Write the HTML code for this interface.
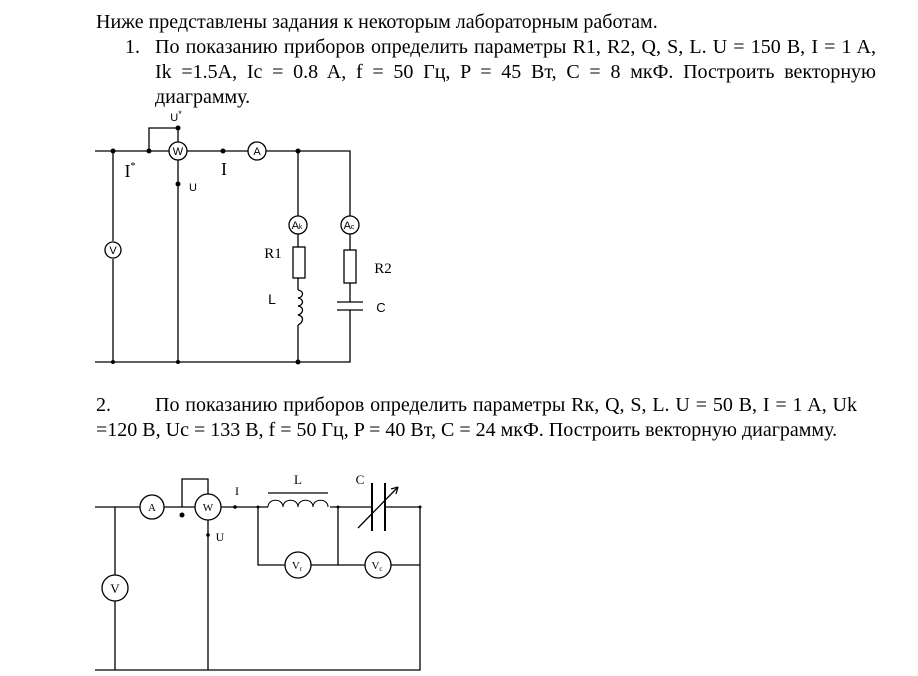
<!DOCTYPE html>
<html><head><meta charset="utf-8"><style>
body{margin:0;background:#fff;width:918px;height:676px;overflow:hidden;position:relative;font-family:"Liberation Serif","Noto Serif CJK SC",serif;color:#000}
.t{position:absolute;font-size:20px;white-space:nowrap;line-height:22px}
.j{text-align:justify;text-align-last:justify;white-space:normal}
svg{position:absolute;left:0;top:0}
</style></head><body>
<div class="t" style="left:96px;top:11px">Ниже представлены задания к некоторым лабораторным работам.</div>
<div class="t" style="left:125px;top:36px">1.</div>
<div class="t j" style="left:155px;top:36px;width:721px">По показанию приборов определить параметры R1, R2, Q, S, L. U = 150 В, I = 1 A,</div>
<div class="t j" style="left:155px;top:61px;width:721px">Ik =1.5A, Ic = 0.8 A, f = 50 Гц, P = 45 Вт, C = 8 мкФ. Построить векторную</div>
<div class="t" style="left:155px;top:86px">диаграмму.</div>
<div class="t" style="left:96px;top:394px">2.</div>
<div class="t j" style="left:155px;top:394px;width:702px">По показанию приборов определить параметры Rк, Q, S, L. U = 50 В, I = 1 A, Uk</div>
<div class="t" style="left:96px;top:419px">=120 В, Uc = 133 В, f = 50 Гц, P = 40 Вт, C = 24 мкФ. Построить векторную диаграмму.</div>
<svg width="918" height="676" viewBox="0 0 918 676" font-family="Liberation Sans, sans-serif">
<g stroke="#000" stroke-width="1.3" fill="none">
<path d="M95 151H169M187 151H248M266 151H350V216M350 234V250M350 283V302M350 310V362H95"/>
<path d="M113 151V241M113 259V362"/>
<path d="M149 151V128H178V142M178 160V362"/>
<path d="M298 151V216M298 234V247M298 278V290M298 325V362"/>
<rect x="293" y="247" width="12" height="31"/>
<rect x="344" y="250" width="12" height="33"/>
<path d="M337 302H363M337 310H363"/>
<path d="M298 290c6 1 6 7 0 8c6 1 6 7 0 8c6 1 6 7 0 9c6 1 6 7 0 10"/>
<circle cx="113" cy="250" r="8"/><circle cx="178" cy="151" r="9"/><circle cx="257" cy="151" r="9"/>
<circle cx="298" cy="225" r="9"/><circle cx="350" cy="225" r="9"/>
<path d="M95 507H140M164 507H195M221 507H268M330 507H372M385 507H420V670H95"/>
<path d="M115 507V575M115 601V670"/>
<path d="M182 507V479H208V494M208 520V670"/>
<path d="M258 507V565H285M311 565H365M391 565H420M338 507V565"/>
<path d="M268 493H328"/>
<path d="M268 507c0-9 15-9 15 0c0-9 15-9 15 0c0-9 15-9 15 0c0-9 15-9 15 0" stroke-width="1"/>
<path d="M372 483V531M385 483V531" stroke-width="2"/>
<path d="M358 528L398 487M398 487l-7 2M398 487l-2 7"/>
<circle cx="115" cy="588" r="13"/><circle cx="152" cy="507" r="12"/><circle cx="208" cy="507" r="13"/>
<circle cx="298" cy="565" r="13"/><circle cx="378" cy="565" r="13"/>
</g>
<g fill="#000">
<circle cx="113" cy="151" r="2.5"/><circle cx="149" cy="151" r="2.5"/><circle cx="178" cy="128" r="2.5"/>
<circle cx="178" cy="184" r="2.5"/><circle cx="223" cy="151" r="2.5"/><circle cx="298" cy="151" r="2.5"/>
<circle cx="298" cy="362" r="2.5"/><circle cx="113" cy="362" r="2"/><circle cx="178" cy="362" r="2"/>
<circle cx="182" cy="515" r="2.5"/><circle cx="208" cy="535" r="1.8"/><circle cx="235" cy="507" r="1.8"/>
<circle cx="258" cy="507" r="1.5"/><circle cx="338" cy="507" r="1.5"/><circle cx="420" cy="507" r="1.5"/>
</g>
<g font-size="11" text-anchor="middle">
<text x="113" y="254">V</text><text x="178" y="155">W</text><text x="257" y="155">A</text>
<text x="297" y="229">A<tspan font-size="7">k</tspan></text><text x="349" y="229">A<tspan font-size="7">c</tspan></text>
<text x="176" y="121">U<tspan font-size="9" dy="-4">*</tspan></text>
<text x="193" y="191">U</text>
<text x="272" y="304" font-size="14">L</text>
<text x="381" y="312" font-size="13">C</text>
</g>
<g font-family="Liberation Serif, serif" text-anchor="middle">
<text x="130" y="177" font-size="18">I<tspan font-size="10" dy="-8">*</tspan></text>
<text x="224" y="175" font-size="18">I</text>
<text x="273" y="258" font-size="15">R1</text>
<text x="383" y="273" font-size="15">R2</text>
<text x="115" y="593" font-size="13">V</text><text x="152" y="511" font-size="11">A</text><text x="208" y="511" font-size="11">W</text>
<text x="297" y="569" font-size="11">V<tspan font-size="7" dy="2">r</tspan></text><text x="377" y="569" font-size="11">V<tspan font-size="7" dy="2">c</tspan></text>
<text x="220" y="541" font-size="12">U</text><text x="237" y="495" font-size="12">I</text>
<text x="298" y="484" font-size="13">L</text><text x="360" y="484" font-size="13">C</text>
</g>
</svg>
</body></html>
